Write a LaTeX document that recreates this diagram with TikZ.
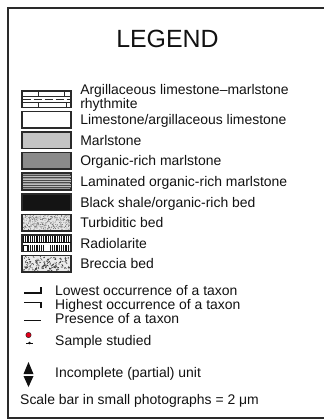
\documentclass[tikz,border=0pt]{standalone}
\usepackage{fontspec}
\setmainfont{Liberation Sans}
\usepackage{xcolor}
\usetikzlibrary{positioning}
\definecolor{ink}{HTML}{111111}
\definecolor{boxline}{HTML}{2A2A2A}
\definecolor{marlgray}{HTML}{C4C4C4}
\definecolor{orggray}{HTML}{8A8A8A}
\definecolor{lamgray}{HTML}{9A9A9A}
\definecolor{shale}{HTML}{141414}
\definecolor{samplered}{HTML}{E0001B}

\begin{document}
\begin{tikzpicture}[
  x=1bp, y=-1bp,
  swatch/.style={
    rectangle, draw=boxline, line width=1.6bp, fill=#1,
    minimum width=49.5bp, minimum height=16.6bp, inner sep=0pt
  },
  lbl/.style={font=\fontsize{14}{14}\selectfont, text=ink, inner sep=0pt,
    anchor=base west},
  sym/.style={line width=1.3bp, draw=ink}
]
\useasboundingbox (0,0) rectangle (324,420);

% Frame (open to the right)
\draw[line width=1.8bp, draw=boxline] (324,8) -- (8,8) -- (8,418) -- (324,418);

% Title
\node[font=\fontsize{25}{25}\selectfont, text=ink, inner sep=0pt, anchor=base]
  (title) at (167.5,47) {LEGEND};

% Lithology swatches
\node[swatch=white]     (rhy)  at (46.5, 99.0)  {};
\node[swatch=white]     (lime) at (46.5, 119.6) {};
\node[swatch=marlgray]  (marl) at (46.5, 140.2) {};
\node[swatch=orggray]   (org)  at (46.5, 160.8) {};
\node[swatch=lamgray]   (lam)  at (46.5, 181.4) {};
\node[swatch=shale]     (blk)  at (46.5, 202.0) {};
\node[swatch=black!10]  (turb) at (46.5, 222.6) {};
\node[swatch=white]     (rad)  at (46.5, 243.2) {};
\node[swatch=black!8]   (brec) at (46.5, 263.8) {};

% Rhythmite fill
\begin{scope}[shift={(rhy.center)}, line width=0.8bp, draw=boxline]
  \draw (-24,-3) -- (24,-3);
  \draw (-24,3) -- (24,3);
  \draw (-8.5,-7.5) -- (-8.5,-3);
  \draw (17.5,-7.5) -- (17.5,-3);
  \draw[dash pattern=on 8bp off 3bp] (-24,0) -- (24,0);
  \draw (-8.5,3) -- (-8.5,7.5);
  \draw (19.5,3) -- (19.5,7.5);
\end{scope}

% Laminated fill
\begin{scope}[shift={(lam.center)}]
  \foreach \yy in {-6,-3.5,-1,1.5,4,6.5}
    \draw[line width=0.9bp, black!70] (-24,\yy) -- (24,\yy);
  \foreach \yy in {-4.75,-2.25,0.25,2.75,5.25}
    \draw[line width=0.6bp, black!25] (-24,\yy) -- (24,\yy);
\end{scope}

% Turbiditic fill
\pgfmathsetseed{11}
\begin{scope}[shift={(turb.center)}]
  \foreach \k in {1,...,320}
    \fill[black!65] (rand*23.5, rand*7.3) circle (0.4bp);
\end{scope}

% Radiolarite fill
\begin{scope}[shift={(rad.center)}, line width=0.7bp, draw=ink]
  \foreach \xx in {-23.2,-21.4,...,23.5}
    \draw (\xx,-7.5) -- (\xx,-1.6);
  \draw[line width=0.9bp] (-24,-1.2) -- (24,-1.2);
  \foreach \xx in {-16,-14.2,...,-2}
    \draw (\xx,1.8) -- (\xx,7.5);
  \foreach \xx in {4,5.8,...,23.5}
    \draw (\xx,1.8) -- (\xx,7.5);
  \fill[ink] (-24,1.8) rectangle (-18,7.5);
  \fill[white] (-23,3) rectangle (-19.3,7.5);
\end{scope}

% Breccia fill
\pgfmathsetseed{5}
\begin{scope}[shift={(brec.center)}, line width=0.45bp, draw=black!80]
  \foreach \k in {1,...,110}
    \draw (rand*22.5, rand*6.8) -- ++(rand*1.6, rand*1.6) -- ++(rand*1.6, rand*1.6);
\end{scope}

% Lithology labels
\node[lbl, align=left] (rhyl) at ([xshift=8bp, yshift=-9bp]rhy.east)
  {Argillaceous limestone–marlstone\\rhythmite};
\node[lbl] (limel) at ([xshift=8bp, yshift=-5bp]lime.east) {Limestone/argillaceous limestone};
\node[lbl] (marll) at ([xshift=8bp, yshift=-5bp]marl.east) {Marlstone};
\node[lbl] (orgl)  at ([xshift=8bp, yshift=-5bp]org.east)  {Organic-rich marlstone};
\node[lbl] (laml)  at ([xshift=8bp, yshift=-5bp]lam.east)  {Laminated organic-rich marlstone};
\node[lbl] (blkl)  at ([xshift=8bp, yshift=-5bp]blk.east)  {Black shale/organic-rich bed};
\node[lbl] (turbl) at ([xshift=8bp, yshift=-5bp]turb.east) {Turbiditic bed};
\node[lbl] (radl)  at ([xshift=8bp, yshift=-5bp]rad.east)  {Radiolarite};
\node[lbl] (brecl) at ([xshift=8bp, yshift=-5bp]brec.east) {Breccia bed};

% Taxon symbols
\draw[sym] (24,293) -- (41,293) -- (41,287);
\draw[sym] (24,302.5) -- (41,302.5) -- (41,308);
\draw[sym] (24,320.7) -- (41,320.7);

% Sample symbol
\fill[samplered, draw=ink, line width=0.4bp] (28.5,335) circle (2.7bp);
\draw[line width=0.8bp, ink] (26,343) -- (33,343);
\fill[ink] (29.5,343) circle (1.4bp);

% Incomplete unit arrows
\fill[ink] (28.5,362) -- (33.5,374) -- (23.5,374) -- cycle;
\fill[ink] (23.5,376) -- (33.5,376) -- (28.5,387) -- cycle;

% Symbol labels
\node[lbl] (lowl)  at (55,295) {Lowest occurrence of a taxon};
\node[lbl] (highl) at (55,309) {Highest occurrence of a taxon};
\node[lbl] (presl) at (55,323) {Presence of a taxon};
\node[lbl] (saml)  at (55,345) {Sample studied};
\node[lbl] (incl)  at (55,377) {Incomplete (partial) unit};
\node[lbl] (scal)  at (20,404) {Scale bar in small photographs = 2 μm};

\end{tikzpicture}
\end{document}
